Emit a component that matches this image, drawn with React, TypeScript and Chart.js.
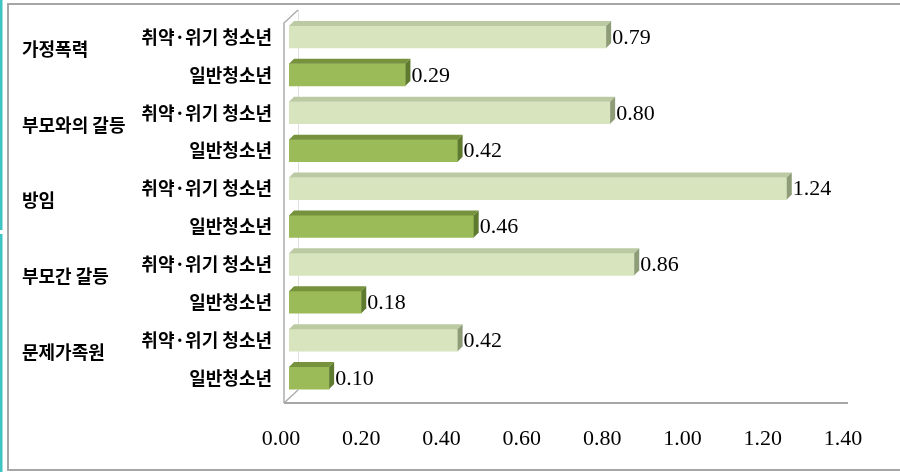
import React, { useEffect, useRef } from 'react';
import { Chart, registerables } from 'chart.js';

Chart.register(...registerables);

const categories = ['가정폭력', '부모와의 갈등', '방임', '부모간 갈등', '문제가족원'];
const subLabels = ['취약·위기 청소년', '일반청소년'];
const vulnerable = [0.79, 0.8, 1.24, 0.86, 0.42];
const general = [0.29, 0.42, 0.46, 0.18, 0.1];
const xMin = 0;
const xMax = 1.4;
const xStep = 0.2;

const lightFront = '#D7E4BD';
const lightTop = '#BCCAA3';
const lightSide = '#8E9C78';
const darkFront = '#9BBB59';
const darkTop = '#76923C';
const darkSide = '#5E7A2E';

const numFont = '22px "Liberation Serif", serif';
const krFont = 'bold 18px "Noto Sans CJK KR", sans-serif';
const DEPTH = 5;

const decorPlugin = {
  id: 'decor',
  beforeDraw(chart: any) {
    const ctx = chart.ctx;
    const { left, right, bottom } = chart.chartArea;
    ctx.save();
    ctx.fillStyle = '#ffffff';
    ctx.fillRect(0, 0, chart.width, chart.height);
    ctx.fillStyle = '#3FC3C3';
    ctx.fillRect(0, 0, 2.5, 230);
    ctx.fillRect(0, 234, 2.5, chart.height - 234);
    ctx.strokeStyle = '#A6A6A6';
    ctx.lineWidth = 2;
    ctx.beginPath();
    ctx.moveTo(chart.width + 2, 4);
    ctx.lineTo(8, 4);
    ctx.lineTo(8, 470);
    ctx.lineTo(chart.width + 2, 470);
    ctx.stroke();
    const fx = left - 5;
    const bx = left + 9;
    const wt = 23;
    ctx.lineWidth = 1;
    ctx.strokeStyle = '#E0E0E0';
    ctx.beginPath();
    ctx.moveTo(bx + 0.5, wt - 13);
    ctx.lineTo(bx + 0.5, bottom - 7);
    ctx.stroke();
    ctx.strokeStyle = '#ADADAD';
    ctx.lineWidth = 1.5;
    ctx.beginPath();
    ctx.moveTo(fx, bottom + 6);
    ctx.lineTo(fx, wt);
    ctx.lineTo(bx, wt - 13);
    ctx.stroke();
    ctx.beginPath();
    ctx.moveTo(fx, bottom + 6);
    ctx.lineTo(bx, bottom - 7);
    ctx.stroke();
    ctx.lineWidth = 2;
    ctx.strokeStyle = '#A6A6A6';
    ctx.beginPath();
    ctx.moveTo(fx, bottom + 6);
    ctx.lineTo(right - 3, bottom + 6);
    ctx.stroke();
    ctx.restore();
  },
  afterDatasetsDraw(chart: any) {
    const ctx = chart.ctx;
    const meta = chart.getDatasetMeta(0);
    const values = chart.data.datasets[0].data;
    ctx.save();
    meta.data.forEach((bar: any, i: number) => {
      const { x, y, base, height } = bar.getProps(['x', 'y', 'base', 'height'], true);
      const t = y - height / 2;
      const b = y + height / 2;
      const isLight = i % 2 === 0;
      ctx.fillStyle = isLight ? lightTop : darkTop;
      ctx.beginPath();
      ctx.moveTo(base, t);
      ctx.lineTo(base + DEPTH, t - DEPTH);
      ctx.lineTo(x + DEPTH, t - DEPTH);
      ctx.lineTo(x, t);
      ctx.closePath();
      ctx.fill();
      ctx.fillStyle = isLight ? lightSide : darkSide;
      ctx.beginPath();
      ctx.moveTo(x, t);
      ctx.lineTo(x + DEPTH, t - DEPTH);
      ctx.lineTo(x + DEPTH, b - DEPTH);
      ctx.lineTo(x, b);
      ctx.closePath();
      ctx.fill();
      ctx.fillStyle = '#000';
      ctx.font = numFont;
      ctx.textAlign = 'left';
      ctx.textBaseline = 'middle';
      ctx.fillText(Number(values[i]).toFixed(2), x + DEPTH + 1, y + 1);
    });
    ctx.font = krFont;
    ctx.fillStyle = '#000';
    ctx.textAlign = 'left';
    ctx.textBaseline = 'middle';
    categories.forEach((c, gi) => {
      const a = meta.data[gi * 2];
      const bb = meta.data[gi * 2 + 1];
      const cy = (a.y + bb.y) / 2 - 7;
      ctx.fillText(c, 22, cy);
    });
    ctx.restore();
  },
};

export default function App() {
  const ref = useRef<HTMLCanvasElement | null>(null);
  useEffect(() => {
    document.body.style.margin = '0';
    const labels = categories.flatMap(() => subLabels);
    const values = categories.flatMap((_, i) => [vulnerable[i], general[i]]);
    const colors = categories.flatMap(() => [lightFront, darkFront]);
    const chart = new Chart(ref.current as HTMLCanvasElement, {
      type: 'bar',
      data: {
        labels,
        datasets: [
          {
            data: values,
            backgroundColor: colors,
            borderWidth: 0,
            barThickness: 22,
          },
        ],
      },
      options: {
        indexAxis: 'y',
        animation: false,
        responsive: false,
        maintainAspectRatio: false,
        layout: { padding: { left: 0, top: 18, right: 49, bottom: 0 } },
        plugins: { legend: { display: false }, tooltip: { enabled: false } },
        scales: {
          x: {
            min: xMin,
            max: xMax,
            grid: { display: false, drawTicks: false },
            border: { display: false },
            afterFit: (s: any) => {
              s.height = 75;
              s.paddingLeft = 0;
              s.paddingRight = 0;
            },
            ticks: {
              stepSize: xStep,
              padding: 29,
              labelOffset: -8,
              color: '#000',
              font: { family: '"Liberation Serif", serif', size: 22 },
              callback: (v: any) => Number(v).toFixed(2),
            },
          },
          y: {
            grid: { display: false, drawTicks: false },
            border: { display: false },
            afterFit: (s: any) => {
              s.width = 289;
              s.paddingTop = 0;
              s.paddingBottom = 0;
            },
            ticks: {
              padding: 17,
              color: '#000',
              font: { family: '"Noto Sans CJK KR", sans-serif', size: 18, weight: 'bold' },
              autoSkip: false,
            },
          },
        },
      },
      plugins: [decorPlugin],
    });
    return () => chart.destroy();
  }, []);
  return (
    <div style={{ position: 'fixed', left: 0, top: 0, width: 900, height: 472 }}>
      <canvas ref={ref} width={900} height={472} style={{ width: 900, height: 472, display: 'block' }} />
    </div>
  );
}
